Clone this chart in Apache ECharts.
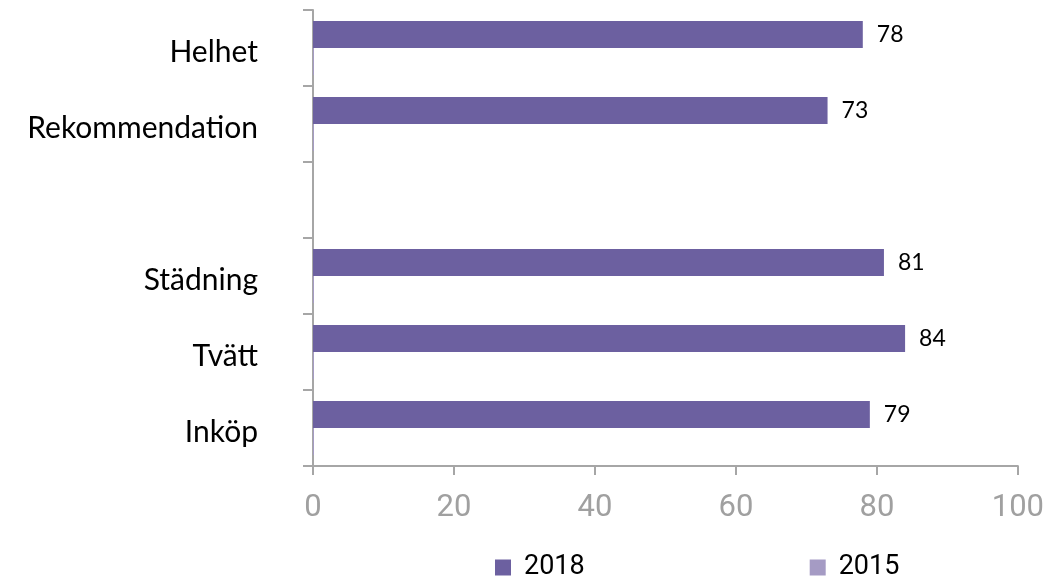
<!DOCTYPE html>
<html>
<head>
<meta charset="utf-8">
<script src="https://cdn.jsdelivr.net/npm/echarts@6/dist/echarts.min.js"></script>
<style>
  html, body { margin: 0; padding: 0; background: #fff; }
  #chart { width: 1047px; height: 580px; }
</style>
</head>
<body>
<div id="chart"></div>
<script>
// kategorier uppifrån och ned (tom rad mellan grupperna)
var categories = ["Helhet", "Rekommendation", "", "Städning", "Tvätt", "Inköp"];
var values2018 = [78, 73, "-", 81, 84, 79];
var values2015 = [0, 0, "-", 0, 0, 0];
var xTicks = [0, 20, 40, 60, 80, 100];

var FONT = "Lato";
var chart = echarts.init(document.getElementById("chart"));
chart.setOption({
  animation: false,
  textStyle: { fontFamily: FONT },
  grid: { left: 313, right: 29, top: 10, bottom: 114 },
  legend: {
    top: 549,
    left: 490,
    itemWidth: 16,
    itemHeight: 16,
    itemGap: 225,
    icon: "rect",
    textStyle: { fontSize: 27, color: "#000", fontFamily: "Roboto", padding: [0, 0, 0, 8] },
    data: ["2018", "2015"]
  },
  xAxis: {
    type: "value",
    min: xTicks[0],
    max: xTicks[xTicks.length - 1],
    interval: 20,
    splitLine: { show: false },
    axisLine: { show: true, lineStyle: { color: "#a6a6a6", width: 2 } },
    axisTick: { show: true, length: 9, lineStyle: { color: "#a6a6a6", width: 2 } },
    axisLabel: { fontSize: 31, color: "#a0a0a0", margin: 27, fontFamily: "Roboto" }
  },
  yAxis: {
    type: "category",
    inverse: true,
    data: categories,
    axisLine: { show: true, lineStyle: { color: "#a6a6a6", width: 2 } },
    axisTick: { show: true, length: 10, lineStyle: { color: "#a6a6a6", width: 2 } },
    axisLabel: {
      fontSize: 30, color: "#000", margin: 55, fontFamily: FONT,
      verticalAlign: "top", lineHeight: 8
    }
  },
  series: [
    {
      name: "2018",
      type: "bar",
      data: values2018,
      barWidth: 27,
      barGap: "0%",
      itemStyle: { color: "#6c60a0" },
      label: { show: true, position: "right", distance: 14, fontSize: 23, color: "#000", fontFamily: FONT }
    },
    {
      name: "2015",
      type: "bar",
      data: values2015,
      barWidth: 27,
      barGap: "0%",
      barMinHeight: 1,
      itemStyle: { color: "#a59bc4" }
    }
  ]
});
</script>
</body>
</html>
